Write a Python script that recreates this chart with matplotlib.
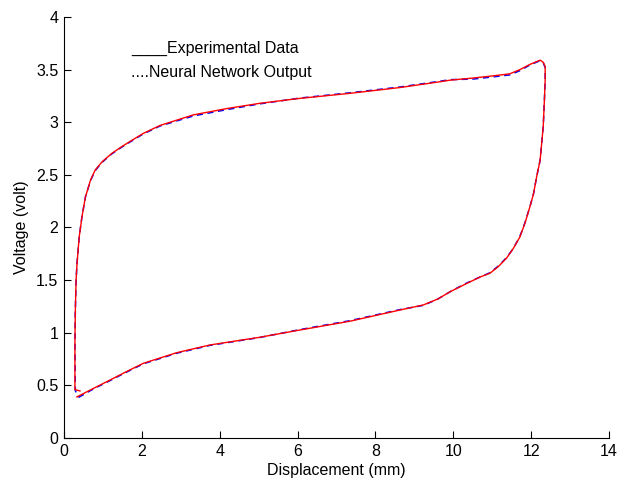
#!/usr/bin/env python3
"""Hysteresis loop: experimental data vs neural network output."""
import matplotlib
matplotlib.use("Agg")
import matplotlib.pyplot as plt

plt.rcParams["font.family"] = ["Liberation Sans", "DejaVu Sans"]

# experimental data (red, solid), traced from lower-left along lower branch
disp_exp = [0.33, 0.75, 1.18, 1.60, 2.04, 2.89, 3.75, 5.03, 6.06, 7.35, 8.63,
            9.23, 9.60, 9.92, 10.30, 10.69, 10.94, 11.16, 11.37, 11.54, 11.71,
            11.84, 11.97, 12.06, 12.14, 12.23, 12.31, 12.34, 12.36, 12.36,
            12.31, 12.23, 11.97, 11.71, 11.45, 11.00, 10.50, 9.92, 9.66, 8.63,
            7.35, 6.06, 5.03, 4.18, 3.32, 2.47, 2.04, 1.75, 1.49, 1.23, 0.98,
            0.80, 0.68, 0.55, 0.46, 0.39, 0.334, 0.31, 0.29, 0.28, 0.28, 0.41]
volt_exp = [0.39, 0.47, 0.55, 0.63, 0.71, 0.81, 0.884, 0.957, 1.026, 1.11,
            1.216, 1.264, 1.32, 1.39, 1.46, 1.53, 1.565, 1.63, 1.71, 1.80,
            1.91, 2.04, 2.20, 2.32, 2.48, 2.64, 2.96, 3.21, 3.40, 3.53, 3.57,
            3.59, 3.55, 3.50, 3.46, 3.44, 3.42, 3.40, 3.385, 3.33, 3.275,
            3.227, 3.18, 3.13, 3.07, 2.97, 2.895, 2.83, 2.77, 2.705, 2.625,
            2.546, 2.45, 2.29, 2.10, 1.91, 1.66, 1.50, 1.20, 0.90, 0.46, 0.447]

# neural network output (blue, dashed)
disp_nn = [0.37, 0.75, 1.18, 1.60, 2.04, 2.89, 3.75, 5.03, 6.06, 7.35, 8.63,
           9.23, 9.60, 9.92, 10.30, 10.69, 10.94, 11.16, 11.37, 11.54, 11.71,
           11.84, 11.97, 12.06, 12.14, 12.23, 12.31, 12.34, 12.36, 12.36,
           12.31, 12.23, 11.97, 11.71, 11.45, 11.00, 10.50, 9.92, 9.66, 8.63,
           7.35, 6.06, 5.03, 4.18, 3.32, 2.47, 2.04, 1.75, 1.49, 1.23, 0.98,
           0.80, 0.68, 0.55, 0.46, 0.39, 0.334, 0.31, 0.29, 0.28, 0.29, 0.37]
volt_nn = [0.385, 0.465, 0.545, 0.625, 0.705, 0.805, 0.88, 0.955, 1.03, 1.115,
           1.22, 1.26, 1.32, 1.39, 1.465, 1.53, 1.57, 1.635, 1.715, 1.80,
           1.915, 2.045, 2.20, 2.32, 2.48, 2.64, 2.96, 3.21, 3.40, 3.52, 3.565,
           3.585, 3.545, 3.49, 3.45, 3.43, 3.41, 3.405, 3.39, 3.335, 3.28,
           3.23, 3.175, 3.12, 3.06, 2.965, 2.89, 2.825, 2.765, 2.70, 2.62,
           2.54, 2.445, 2.29, 2.10, 1.91, 1.66, 1.50, 1.20, 0.90, 0.45, 0.39]

x_ticks = [0, 2, 4, 6, 8, 10, 12, 14]
y_ticks = [0, 0.5, 1, 1.5, 2, 2.5, 3, 3.5, 4]
y_labels = ["0", "0.5", "1", "1.5", "2", "2.5", "3", "3.5", "4"]

FS = 11.5


def main():
    fig = plt.figure(figsize=(6.24, 4.86), dpi=100)
    ax = fig.add_axes([0.1026, 0.0988, 0.8734, 0.8662])

    ax.plot(disp_nn, volt_nn, color="#0000ff", linestyle=(0, (4, 3)),
            linewidth=1.1)
    ax.plot(disp_exp, volt_exp, color="#ff0000", linewidth=1.0)

    ax.text(1.72, 3.705, "____Experimental Data", fontsize=FS,
            ha="left", va="center")
    ax.text(1.72, 3.477, "....Neural Network Output", fontsize=FS,
            ha="left", va="center")

    ax.set_xlim(0, 14)
    ax.set_ylim(0, 4)
    ax.set_xticks(x_ticks)
    ax.set_yticks(y_ticks)
    ax.set_yticklabels(y_labels)
    ax.tick_params(direction="in", length=5, width=0.8, labelsize=FS,
                   pad=4)
    for side in ("top", "right"):
        ax.spines[side].set_visible(False)
    for side in ("left", "bottom"):
        ax.spines[side].set_linewidth(0.8)

    ax.set_xlabel("Displacement (mm)", fontsize=FS, labelpad=3)
    ax.set_ylabel("Voltage (volt)", fontsize=FS, labelpad=5)

    fig.savefig("out.png", dpi=100, facecolor="white")
    plt.close(fig)


if __name__ == "__main__":
    main()
